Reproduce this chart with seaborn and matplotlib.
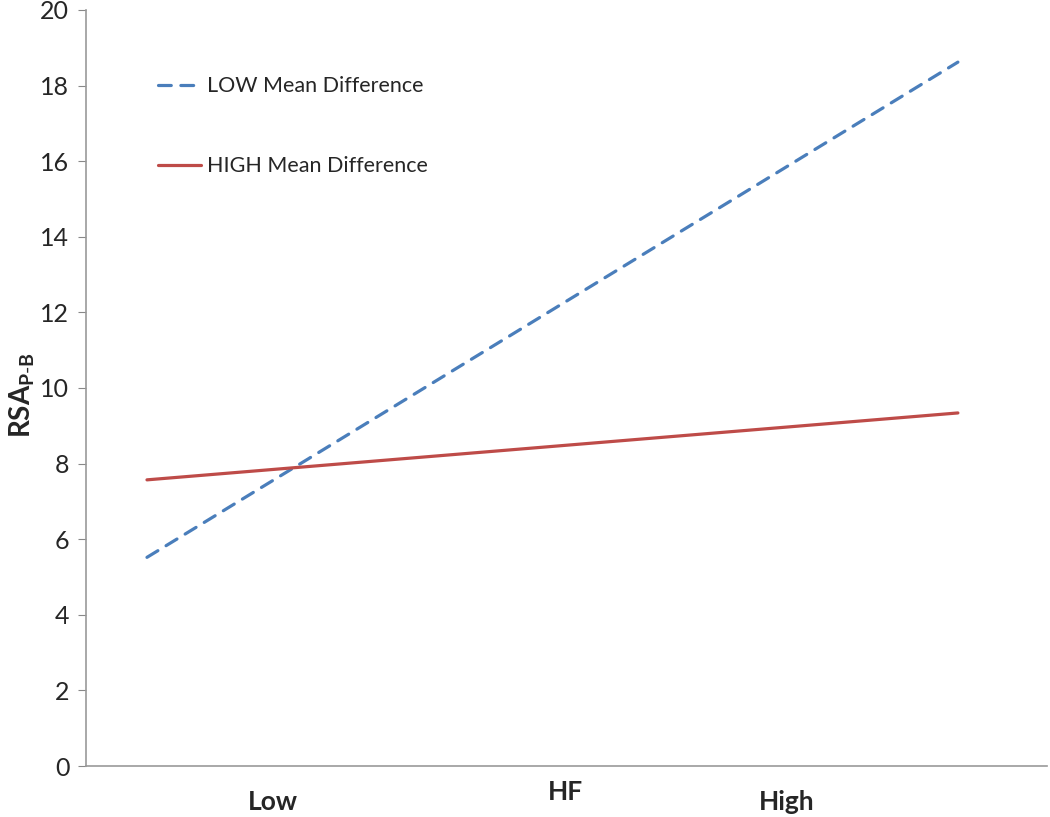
import pandas as pd
import matplotlib.pyplot as plt
import seaborn as sns

# values
hf_levels = ['Low', 'High']
hf_pos = [0, 1]
low_md = [5.52, 18.62]
high_md = [7.57, 9.34]
series_names = ['LOW Mean Difference', 'HIGH Mean Difference']
tick_pos = [0.155, 0.789]

df = pd.DataFrame({
    'HF': hf_pos * 2,
    'RSA': low_md + high_md,
    'group': [series_names[0]] * 2 + [series_names[1]] * 2,
})

sns.set_style('white')
plt.rcParams['font.family'] = ['Lato', 'DejaVu Sans']
plt.rcParams['mathtext.fontset'] = 'custom'
plt.rcParams['mathtext.rm'] = 'Lato'
plt.rcParams['mathtext.bf'] = 'Lato:bold'

fig = plt.figure(figsize=(10.5, 8.17), dpi=100)
ax = fig.add_axes([0.0819, 0.0624, 0.9151, 0.9254])

palette = {series_names[0]: '#4a7ebb', series_names[1]: '#be4b48'}
sns.lineplot(data=df, x='HF', y='RSA', hue='group', style='group',
             palette=palette, dashes={series_names[0]: (4, 3), series_names[1]: ''},
             linewidth=2.3, ax=ax)
for ln in ax.get_lines():
    ln.set_dash_capstyle('round')
    ln.set_solid_capstyle('round')

ax.set_xlim(-0.0752, 1.1097)
ax.set_ylim(0, 20)
ax.set_yticks(range(0, 21, 2))
ax.tick_params(axis='y', labelsize=18, length=6, color='#888888', direction='out', left=True, pad=6)
ax.set_xticks(tick_pos)
ax.set_xticklabels(hf_levels, fontsize=19, fontweight='bold')
ax.tick_params(axis='x', length=0, pad=17)

for s in ['top', 'right']:
    ax.spines[s].set_visible(False)
for s in ['left', 'bottom']:
    ax.spines[s].set_color('#999999')
    ax.spines[s].set_linewidth(1.2)

ax.set_xlabel('')
ax.set_ylabel('')
ax.text(0.499, -0.018, 'HF', transform=ax.transAxes, ha='center', va='top',
        fontsize=19, fontweight='bold')
fig.text(22 / 1050, 1 - 395 / 817, r'$\mathbf{RSA_{P\text{-}B}}$', rotation=90,
         ha='center', va='center', fontsize=20)

leg = ax.legend(loc='upper left', bbox_to_anchor=(0.055, 0.938), frameon=False,
                fontsize=15.5, handlelength=2.0, handletextpad=0.25, labelspacing=2.8)

fig.savefig('out.png', dpi=100)
